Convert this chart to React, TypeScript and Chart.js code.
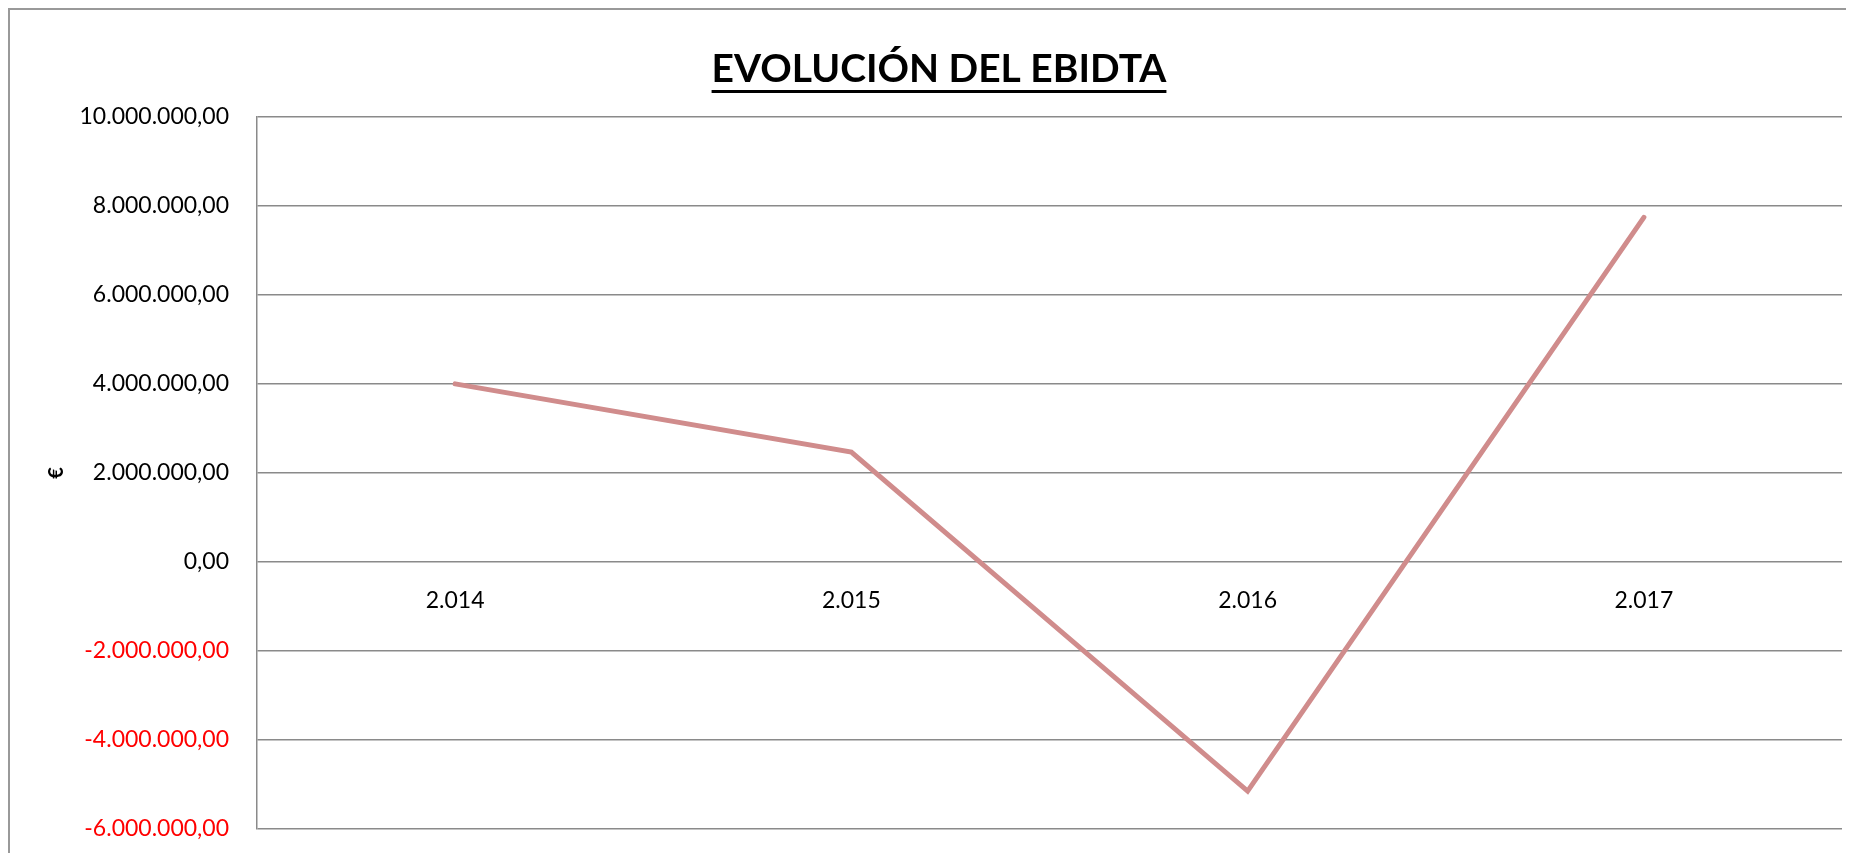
import React, { useEffect, useRef } from "react";
import { Chart, registerables } from "chart.js";

Chart.register(...registerables);

const categories = ["2.014", "2.015", "2.016", "2.017"];
const ebitda = [4000000, 2470000, -5150000, 7740000];
const yMin = -6000000;
const yMax = 10000000;
const yStep = 2000000;
const titleText = "EVOLUCIÓN DEL EBIDTA";
const yAxisTitle = "€";

function formatEs(v: number): string {
  const neg = v < 0;
  const abs = Math.abs(v);
  const intPart = Math.floor(abs).toString().replace(/\B(?=(\d{3})+(?!\d))/g, ".");
  const dec = Math.round((abs - Math.floor(abs)) * 100).toString().padStart(2, "0");
  return (neg ? "-" : "") + intPart + "," + dec;
}

const underlinePlugin = {
  id: "titleUnderline",
  afterDraw(chart: any) {
    const tb = chart.titleBlock;
    if (!tb) return;
    const ctx = chart.ctx;
    ctx.save();
    ctx.font = "bold 39px Lato";
    const w = ctx.measureText(titleText).width;
    const cx = (tb.left + tb.right) / 2;
    ctx.fillStyle = "#000";
    ctx.fillRect(cx - w / 2, 80, w, 3);
    ctx.restore();
  },
};

export default function App() {
  const ref = useRef<HTMLCanvasElement | null>(null);
  useEffect(() => {
    if (!ref.current) return;
    const chart = new Chart(ref.current, {
      type: "line",
      data: {
        labels: categories,
        datasets: [
          {
            label: "EBIDTA",
            data: ebitda,
            borderColor: "#d08c8c",
            backgroundColor: "#d08c8c",
            borderWidth: 5,
            pointRadius: 0,
            tension: 0,
            borderJoinStyle: "miter",
            borderCapStyle: "round",
          },
        ],
      },
      plugins: [underlinePlugin],
      options: {
        animation: false,
        responsive: false,
        maintainAspectRatio: false,
        layout: { padding: { left: 26, right: 12, top: 0, bottom: 24 } },
        plugins: {
          legend: { display: false },
          tooltip: { enabled: false },
          title: {
            display: true,
            text: titleText,
            color: "#000",
            font: { family: "Lato", size: 39, weight: "bold", lineHeight: 1.2 },
            padding: { top: 36, bottom: 24 },
          },
        },
        scales: {
          x: {
            type: "category",
            position: { y: 0 } as any,
            offset: true,
            grid: { display: false, drawTicks: false },
            border: { display: false },
            ticks: {
              color: "#000",
              padding: 25,
              maxRotation: 0,
              font: { family: "Lato", size: 23 },
            },
            afterFit: (s: any) => {
              s.height = 0;
            },
          },
          y: {
            type: "linear",
            min: yMin,
            max: yMax,
            ticks: {
              stepSize: yStep,
              padding: 0,
              font: { family: "Lato", size: 23 },
              color: (c: any) => (c.tick && c.tick.value < 0 ? "#ff0000" : "#000000"),
              callback: (v: any) => formatEs(Number(v)),
            },
            grid: {
              color: "#8a8a8a",
              lineWidth: 1.5,
              drawTicks: true,
              tickLength: 28,
              tickColor: "rgba(0,0,0,0)",
            },
            border: { display: true, color: "#8a8a8a", width: 1.5 },
            title: {
              display: true,
              text: yAxisTitle,
              color: "#000",
              font: { family: "Lato", size: 20, weight: "bold", lineHeight: 1.2 },
              padding: { top: 9, bottom: 0 },
            },
            afterFit: (s: any) => {
              s.width = 221;
            },
          },
        },
      },
    });
    return () => chart.destroy();
  }, []);

  return (
    <div
      style={{
        width: 1846,
        height: 845,
        boxSizing: "border-box",
        borderTop: "2px solid #999",
        borderLeft: "2px solid #999",
        overflow: "hidden",
        background: "#fff",
      }}
    >
      <canvas ref={ref} width={1844} height={843} style={{ display: "block" }} />
    </div>
  );
}
